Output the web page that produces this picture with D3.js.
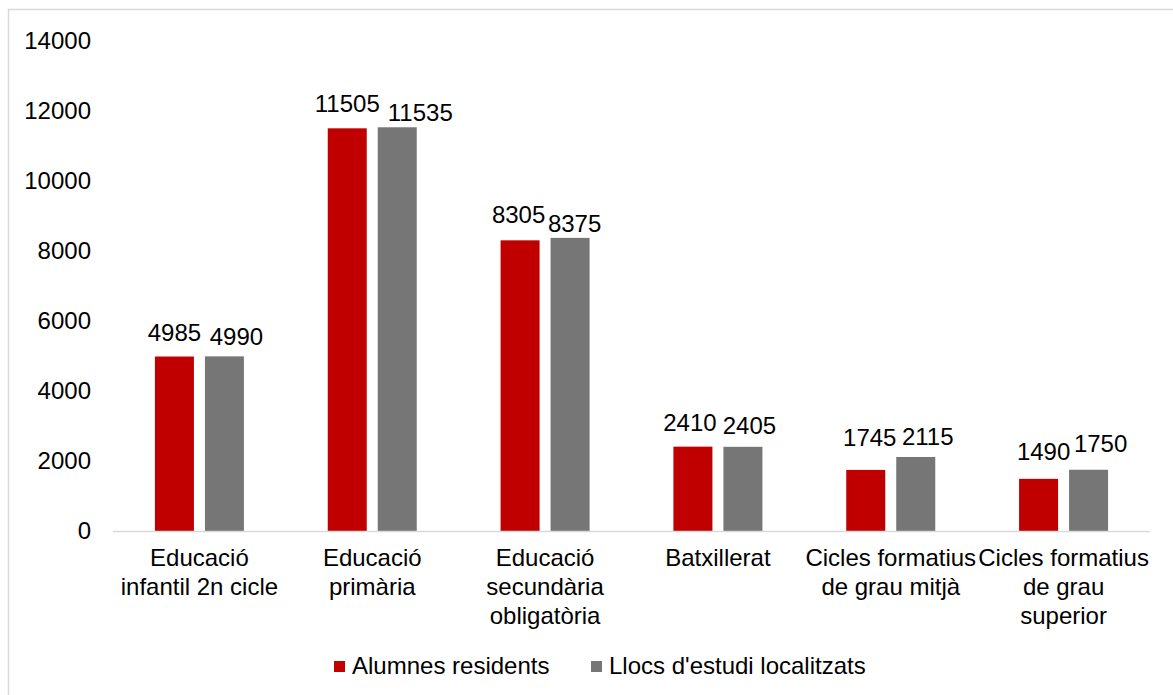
<!DOCTYPE html>
<html>
<head>
<meta charset="utf-8">
<script src="https://cdn.jsdelivr.net/npm/d3@7"></script>
<style>
  html, body { margin: 0; padding: 0; background: #fff; }
  svg { display: block; font-family: "Liberation Sans", Arial, sans-serif; }
</style>
</head>
<body>
<svg id="chart" width="1173" height="695"></svg>
<script>
const categories = [
  ["Educació", "infantil 2n cicle"],
  ["Educació", "primària"],
  ["Educació", "secundària", "obligatòria"],
  ["Batxillerat"],
  ["Cicles formatius", "de grau mitjà"],
  ["Cicles formatius", "de grau", "superior"]
];
const seriesNames = ["Alumnes residents", "Llocs d'estudi localitzats"];
const residents = [4985, 11505, 8305, 2410, 1745, 1490];
const places = [4990, 11535, 8375, 2405, 2115, 1750];
const yTicks = [0, 2000, 4000, 6000, 8000, 10000, 12000, 14000];
const colors = ["#C00000", "#767676"];

// layout-only: small shifts applied to data labels to avoid collisions (as in the original)
const labelNudge = [
  [[0, 0], [0, 0], [-1.5, -1], [-3, 0], [4, -8], [5, -3]],
  [[12, 5], [23, 10], [4.5, 10], [6.5, 3], [12, 4], [12, -2]]
];

const svg = d3.select("#chart");
const fontSize = 24;

// outer border
svg.append("rect")
  .attr("x", 8.5).attr("y", 9.5)
  .attr("width", 1200).attr("height", 700)
  .attr("fill", "none").attr("stroke", "#d9d9d9").attr("stroke-width", 1.5);

const x0 = d3.scaleBand().domain(d3.range(categories.length)).range([113, 1150]).padding(0);
const x1 = d3.scaleBand().domain([0, 1]).range([-44.5, 44.5]).paddingInner(0.22).paddingOuter(0);
const y = d3.scaleLinear().domain([0, 14000]).range([531, 41]);

// y tick labels
svg.append("g").selectAll("text").data(yTicks).join("text")
  .attr("x", 91).attr("y", d => y(d))
  .attr("dy", "0.35em")
  .attr("text-anchor", "end")
  .attr("font-size", fontSize).attr("fill", "#000")
  .text(d => d);

const series = [residents, places];
const bars = [];
series.forEach((vals, s) => vals.forEach((v, i) => bars.push({ s, i, v })));

// bars
svg.append("g").selectAll("rect").data(bars).join("rect")
  .attr("x", d => x0(d.i) + x0.bandwidth() / 2 + x1(d.s))
  .attr("width", x1.bandwidth())
  .attr("y", d => y(d.v))
  .attr("height", d => y(0) - y(d.v))
  .attr("fill", d => colors[d.s]);

// baseline
svg.append("line")
  .attr("x1", 113).attr("x2", 1150)
  .attr("y1", y(0) + 0.5).attr("y2", y(0) + 0.5)
  .attr("stroke", "#d9d9d9").attr("stroke-width", 1.5);

// data labels
svg.append("g").selectAll("text").data(bars).join("text")
  .attr("x", d => x0(d.i) + x0.bandwidth() / 2 + x1(d.s) + x1.bandwidth() / 2 + labelNudge[d.s][d.i][0])
  .attr("y", d => y(d.v) - 16 + labelNudge[d.s][d.i][1])
  .attr("text-anchor", "middle")
  .attr("font-size", fontSize).attr("fill", "#000")
  .text(d => d.v);

// category labels
const cat = svg.append("g").selectAll("text").data(categories).join("text")
  .attr("text-anchor", "middle")
  .attr("font-size", fontSize).attr("fill", "#000");
cat.each(function(lines, i) {
  const t = d3.select(this);
  lines.forEach((ln, k) => {
    t.append("tspan")
      .attr("x", x0(i) + x0.bandwidth() / 2)
      .attr("y", 566 + k * 29)
      .text(ln);
  });
});

// legend
const legendX = [334, 591];
const lg = svg.append("g").selectAll("g").data(seriesNames).join("g");
lg.append("rect")
  .attr("x", (d, i) => legendX[i]).attr("y", 661)
  .attr("width", 11).attr("height", 11)
  .attr("fill", (d, i) => colors[i]);
lg.append("text")
  .attr("x", (d, i) => legendX[i] + 18).attr("y", 673.5)
  .attr("font-size", fontSize).attr("fill", "#000")
  .text(d => d);
</script>
</body>
</html>
